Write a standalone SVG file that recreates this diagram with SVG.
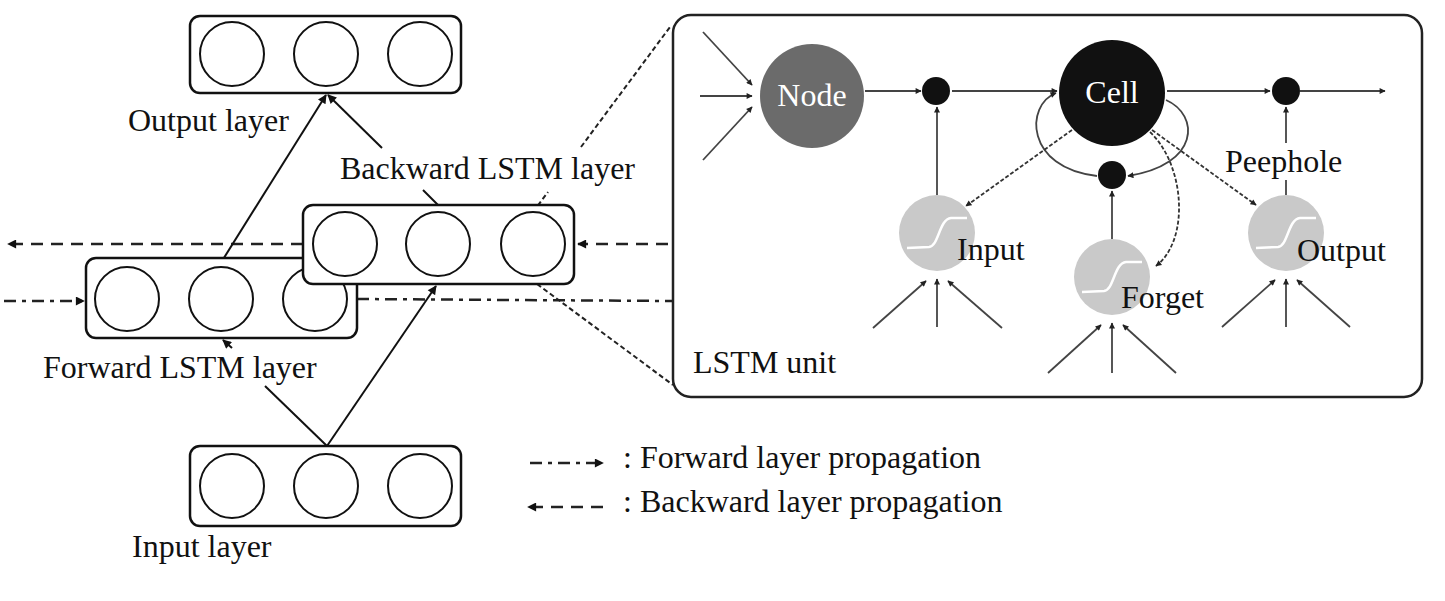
<svg xmlns="http://www.w3.org/2000/svg" width="1445" height="601" viewBox="0 0 1445 601">
<style>
text{font-family:"Liberation Serif","Times New Roman",serif;font-size:32px;fill:#111}
.box{fill:#fff;stroke:#111;stroke-width:2.5}
.neu{fill:none;stroke:#111;stroke-width:2}
.ln{fill:none;stroke:#111;stroke-width:2}
.dash{fill:none;stroke:#222;stroke-width:2.5;stroke-dasharray:12 8}
.dd{fill:none;stroke:#222;stroke-width:2.5;stroke-dasharray:12 6 4 6}
.dot{fill:none;stroke:#222;stroke-width:2;stroke-dasharray:5 3}
.g{fill:none;stroke:#444;stroke-width:1.8}
.gd{fill:none;stroke:#333;stroke-width:1.8;stroke-dasharray:4 2}
.gate{fill:#c9c9c9}
.sig{fill:none;stroke:#fff;stroke-width:2.5}
.wt{fill:#fff}
</style>
<defs>
<marker id="ah" viewBox="0 0 10 10" refX="9" refY="5" markerWidth="10" markerHeight="9" markerUnits="userSpaceOnUse" orient="auto"><path d="M0,0L10,5L0,10z" fill="#111"/></marker>
<marker id="as" viewBox="0 0 10 10" refX="9" refY="5" markerWidth="7" markerHeight="6" markerUnits="userSpaceOnUse" orient="auto"><path d="M0,0L10,5L0,10z" fill="#222"/></marker>
<path id="sg" d="M-30,15 L-8,14 C2,13 2,-14 14,-15 L30,-15"/>
</defs>

<g id="connectors">
<!-- propagation arrows -->
<path class="dash" d="M668,244 L578,244" marker-end="url(#ah)"/>
<path class="dash" d="M303,244 L8,244" marker-end="url(#ah)"/>
<path class="dd" d="M4,301 L84,301" marker-end="url(#ah)"/>
<path class="dd" d="M357,299 L673,301"/>
<!-- to output -->
<path class="ln" d="M222,261 L326,95" marker-end="url(#ah)"/>
<path class="ln" d="M382,148 L328,95" marker-end="url(#ah)"/>
<path class="ln" d="M423,190 L438,205"/>
<!-- from input -->
<path class="ln" d="M327,446 L436,286" marker-end="url(#ah)"/>
<path class="ln" d="M327,446 L265,386"/>
<path class="ln" d="M232,348 L223,340" marker-end="url(#ah)"/>
<!-- zoom lines to LSTM unit -->
<path class="dot" d="M533,212 L548,192"/>
<path class="dot" d="M581,147 L670,27"/>
<path class="dot" d="M537,284 L673,385"/>
<!-- legend -->
<path class="dd" d="M530,463 L603,463" stroke="#666" marker-end="url(#ah)"/>
<path class="dash" d="M603,507 L528,507" marker-end="url(#ah)"/>
</g>

<g id="output-layer">
<rect class="box" x="190" y="16" width="271" height="77" rx="10"/>
<circle class="neu" cx="232" cy="54" r="32"/>
<circle class="neu" cx="326" cy="54" r="32"/>
<circle class="neu" cx="420" cy="54" r="32"/>
</g>
<g id="input-layer">
<rect class="box" x="190" y="446" width="271" height="80" rx="10"/>
<circle class="neu" cx="232" cy="486" r="32"/>
<circle class="neu" cx="326" cy="486" r="32"/>
<circle class="neu" cx="420" cy="486" r="32"/>
</g>
<g id="forward-layer">
<rect class="box" x="86" y="258" width="271" height="80" rx="10"/>
<circle class="neu" cx="127" cy="299" r="32"/>
<circle class="neu" cx="221" cy="299" r="32"/>
<circle class="neu" cx="315" cy="299" r="32"/>
</g>
<g id="backward-layer">
<rect class="box" x="303" y="205" width="271" height="79" rx="10"/>
<circle class="neu" cx="345" cy="244" r="32"/>
<circle class="neu" cx="438" cy="244" r="32"/>
<circle class="neu" cx="533" cy="244" r="32"/>
</g>

<g id="labels">
<text x="128" y="131">Output layer</text>
<text x="340" y="179">Backward LSTM layer</text>
<text x="43" y="378">Forward LSTM layer</text>
<text x="132" y="557">Input layer</text>
<text x="623" y="468">: Forward layer propagation</text>
<text x="623" y="512">: Backward layer propagation</text>
</g>

<g id="lstm-unit">
<rect x="673" y="15" width="749" height="382" rx="18" fill="#fff" stroke="#222" stroke-width="2.5"/>
<text x="693" y="373">LSTM unit</text>
<g id="lstm-connectors">
<path class="g" d="M703,32 L752,85" marker-end="url(#as)"/>
<path class="g" d="M700,96 L752,96" marker-end="url(#as)"/>
<path class="g" d="M703,160 L752,107" marker-end="url(#as)"/>
<path class="g" d="M865,91 L921,91" marker-end="url(#as)"/>
<path class="g" d="M952,91 L1057,91" marker-end="url(#as)"/>
<path class="g" d="M1167,91 L1270,91" marker-end="url(#as)"/>
<path class="g" d="M1300,91 L1385,91" marker-end="url(#as)"/>
<path class="g" d="M937,195 L937,107" marker-end="url(#as)"/>
<path class="g" d="M1286,195 L1286,180"/>
<path class="g" d="M1286,143 L1286,107" marker-end="url(#as)"/>
<path class="g" d="M1112,239 L1112,191" marker-end="url(#as)"/>
<path class="g" d="M1166,100 C1200,115 1200,165 1128,176" marker-end="url(#as)"/>
<path class="g" d="M1097,176 C1025,168 1025,105 1056,93" marker-end="url(#as)"/>
<path class="gd" d="M1072,130 L966,206" marker-end="url(#as)"/>
<path class="gd" d="M1152,130 L1256,205" marker-end="url(#as)"/>
<path class="gd" d="M1150,132 C1185,165 1190,240 1156,266" marker-end="url(#as)"/>
<path class="g" d="M873,328 L926,281" marker-end="url(#as)"/>
<path class="g" d="M937,327 L937,279" marker-end="url(#as)"/>
<path class="g" d="M1002,328 L948,281" marker-end="url(#as)"/>
<path class="g" d="M1048,373 L1101,325" marker-end="url(#as)"/>
<path class="g" d="M1112,373 L1112,323" marker-end="url(#as)"/>
<path class="g" d="M1176,373 L1123,325" marker-end="url(#as)"/>
<path class="g" d="M1222,327 L1275,280" marker-end="url(#as)"/>
<path class="g" d="M1286,327 L1286,279" marker-end="url(#as)"/>
<path class="g" d="M1350,327 L1297,280" marker-end="url(#as)"/>
</g>
<g id="node">
<circle cx="812" cy="96" r="52" fill="#6b6b6b"/>
<text class="wt" x="812" y="106" text-anchor="middle">Node</text>
</g>
<g id="cell">
<circle cx="1112" cy="93" r="53" fill="#111"/>
<text class="wt" x="1112" y="103" text-anchor="middle">Cell</text>
</g>
<g id="mult-input"><circle cx="936" cy="91" r="14" fill="#111"/></g>
<g id="mult-output"><circle cx="1286" cy="91" r="14" fill="#111"/></g>
<g id="mult-forget"><circle cx="1112" cy="175" r="14" fill="#111"/></g>
<g id="input-gate">
<circle class="gate" cx="937" cy="233" r="38"/>
<use href="#sg" class="sig" transform="translate(937,233)"/>
<text x="957" y="260">Input</text>
</g>
<g id="forget-gate">
<circle class="gate" cx="1112" cy="277" r="38"/>
<use href="#sg" class="sig" transform="translate(1112,277)"/>
<text x="1121" y="308">Forget</text>
</g>
<g id="output-gate">
<circle class="gate" cx="1286" cy="233" r="38"/>
<use href="#sg" class="sig" transform="translate(1286,233)"/>
<text x="1297" y="261">Output</text>
</g>
<text x="1225" y="172">Peephole</text>
</g>
</svg>
